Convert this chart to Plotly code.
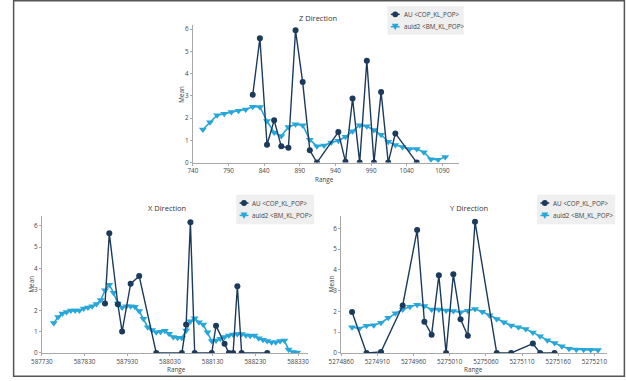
import plotly.graph_objects as go

# ---------------- data ----------------
# Z Direction
z_bm_x = [754, 764, 774, 784, 794, 804, 814, 824, 834, 844, 854, 864, 874, 884, 894, 904, 914, 924,
          934, 944, 954, 964, 974, 984, 994, 1004, 1014, 1024, 1034, 1044, 1054, 1064, 1074, 1084, 1094]
z_bm_y = [1.49, 1.81, 2.13, 2.2, 2.28, 2.33, 2.39, 2.51, 2.5, 1.87, 1.35, 1.2, 1.6, 1.72, 1.68, 1.03,
          0.74, 0.77, 0.9, 0.98, 1.16, 1.41, 1.68, 1.63, 1.46, 1.25, 0.94, 0.79, 0.7, 0.61, 0.61, 0.47,
          0.15, 0.13, 0.25]
z_au_x = [824, 834, 844, 854, 864, 874, 884, 894, 904, 914, 944, 954, 964, 974, 984, 994, 1004, 1014, 1024, 1054]
z_au_y = [3.05, 5.59, 0.8, 1.9, 0.73, 0.67, 5.95, 3.62, 0.55, 0.0, 1.37, 0.04, 2.88, 0.0, 4.58, 0.0,
          3.18, 0.0, 1.31, 0.0]

# X Direction
x_bm_x = [587758, 587768, 587778, 587788, 587798, 587808, 587818, 587828, 587838, 587848,
          587858, 587868, 587878, 587888, 587898, 587908, 587918, 587928, 587938, 587948,
          587958, 587968, 587978, 587988, 587998, 588008, 588018, 588028, 588038, 588048,
          588058, 588068, 588078, 588088, 588098, 588108, 588118, 588128, 588138, 588148,
          588158, 588168, 588178, 588188, 588198, 588208, 588218, 588228, 588238, 588248,
          588258, 588268, 588278, 588288, 588298, 588308, 588318, 588328]
x_bm_y = [1.41, 1.7, 1.87, 1.93, 2.0, 2.01, 2.0, 2.1, 2.15, 2.21,
          2.31, 2.5, 2.96, 3.22, 2.84, 2.34, 2.15, 2.21, 2.21, 2.18,
          1.98, 1.62, 1.22, 1.09, 0.98, 1.0, 1.05, 0.91, 0.75, 0.72,
          0.72, 1.06, 1.5, 1.64, 1.45, 1.34, 0.98, 0.56, 0.59, 0.67,
          0.75, 0.83, 0.87, 0.9, 0.9, 0.84, 0.81, 0.83, 0.7, 0.62,
          0.56, 0.51, 0.51, 0.56, 0.59, 0.16, 0.05, 0.02]
x_au_x = [587878, 587888, 587908, 587918, 587938, 587958, 587998, 588058, 588068, 588078,
          588088, 588128, 588138, 588158, 588168, 588178, 588188, 588198, 588258]
x_au_y = [2.34, 5.65, 2.3, 1.01, 3.27, 3.63, 0.0, 0.0, 1.34, 6.18,
          0.0, 0.0, 1.29, 0.44, 0.0, 0.0, 3.15, 0.0, 0.0]

# Y Direction
y_bm_x = [5274875, 5274885, 5274895, 5274905, 5274915, 5274925, 5274935, 5274945, 5274955,
          5274965, 5274975, 5274985, 5274995, 5275005, 5275015, 5275025, 5275035, 5275045,
          5275055, 5275065, 5275075, 5275085, 5275095, 5275105, 5275115, 5275125, 5275135,
          5275145, 5275155, 5275165, 5275175, 5275185, 5275195, 5275205, 5275215]
y_bm_y = [1.24, 1.18, 1.31, 1.34, 1.46, 1.7, 1.91, 2.1, 2.23, 2.32, 2.26, 2.1, 2.1, 2.05, 2.02,
          1.96, 2.04, 2.12, 1.99, 1.82, 1.64, 1.48, 1.32, 1.24, 1.15, 0.99, 0.8, 0.61, 0.48, 0.32,
          0.2, 0.17, 0.16, 0.15, 0.14]
y_au_x = [5274875, 5274895, 5274915, 5274945, 5274965, 5274975, 5274985, 5274995, 5275005,
          5275015, 5275025, 5275035, 5275045, 5275075, 5275095, 5275125, 5275135, 5275155]
y_au_y = [1.97, 0.0, 0.05, 2.29, 5.92, 1.51, 0.88, 3.74, 0.0, 3.79, 1.62, 0.83, 6.32, 0.0, 0.0,
          0.45, 0.0, 0.0]

panel_titles = ["Z Direction", "X Direction", "Y Direction"]
au_name = "AU &lt;COP_KL_POP&gt;"
bm_name = "auid2 &lt;BM_KL_POP&gt;"
x_title = "Range"
y_title = "Mean"

# ---------------- style ----------------
W, H = 626, 381
DARK = "#1b3a5c"
LIGHT = "#27a6d9"
FONT = "Open Sans"
AXC = "#a8a8a8"
TXT = "#444444"
FS = 6.3


def px(x):
    return x / W


def py(y):
    return 1 - y / H


fig = go.Figure()

panels = [
    dict(bx=z_bm_x, by=z_bm_y, ax=z_au_x, ay=z_au_y,
         xdom=[184, 456], ydom=[25, 164.3], xr=[740, 1113], yr=[0, 6.2], tick0=740, dtick=50,
         title_xy=(312, 18), leg_box=(383, 6, 461, 35), xt_xy=(319, 181), yt_xy=(171.5, 95)),
    dict(bx=x_bm_x, by=x_bm_y, ax=x_au_x, ay=x_au_y,
         xdom=[29.5, 302], ydom=[218.3, 356.7], xr=[587730, 588354], yr=[0, 6.47], tick0=587730, dtick=100,
         title_xy=(158, 210), leg_box=(228.3, 196.7, 308, 226.7), xt_xy=(167, 373.3), yt_xy=(19, 287)),
    dict(bx=y_bm_x, by=y_bm_y, ax=y_au_x, ay=y_au_y,
         xdom=[335.7, 608], ydom=[218.3, 356.7], xr=[5274860, 5275228], yr=[0, 6.6], tick0=5274860, dtick=50,
         title_xy=(466, 210), leg_box=(536, 196.7, 616, 226.7), xt_xy=(471, 373.3), yt_xy=(326.5, 287)),
]

annotations = []
shapes = []
layout_axes = {}
for i, p in enumerate(panels):
    suffix = "" if i == 0 else str(i + 1)
    xa = "x" + suffix
    ya = "y" + suffix
    fig.add_trace(go.Scatter(
        x=p["bx"], y=p["by"], mode="lines+markers", name=bm_name,
        xaxis=xa, yaxis=ya, showlegend=False,
        line=dict(color=LIGHT, width=1.6),
        marker=dict(symbol="triangle-down", size=7, color=LIGHT),
    ))
    fig.add_trace(go.Scatter(
        x=p["ax"], y=p["ay"], mode="lines+markers", name=au_name,
        xaxis=xa, yaxis=ya, showlegend=False,
        line=dict(color=DARK, width=1.4),
        marker=dict(symbol="circle", size=6, color=DARK),
    ))
    layout_axes["xaxis" + suffix] = dict(
        domain=[px(p["xdom"][0]), px(p["xdom"][1])], range=p["xr"], anchor=ya,
        tick0=p["tick0"], dtick=p["dtick"], tickformat="d",
        showline=True, linecolor=AXC, linewidth=1, showgrid=False, zeroline=False,
        ticks="outside", ticklen=2, tickcolor=AXC,
        tickfont=dict(family=FONT, size=FS, color=TXT),
    )
    layout_axes["yaxis" + suffix] = dict(
        domain=[py(p["ydom"][1]), py(p["ydom"][0])], range=p["yr"], anchor=xa,
        tick0=0, dtick=1,
        showline=True, linecolor=AXC, linewidth=1, showgrid=False, zeroline=False,
        ticks="outside", ticklen=2, tickcolor=AXC,
        tickfont=dict(family=FONT, size=FS, color=TXT),
    )
    # panel title
    annotations.append(dict(
        text=panel_titles[i], x=px(p["title_xy"][0]), y=py(p["title_xy"][1]),
        xref="paper", yref="paper", showarrow=False, xanchor="center", yanchor="middle",
        font=dict(family=FONT, size=7.5, color="#333333"),
    ))
    # axis titles
    annotations.append(dict(
        text=x_title, x=px(p["xt_xy"][0]), y=py(p["xt_xy"][1]),
        xref="paper", yref="paper", showarrow=False, xanchor="center", yanchor="middle",
        font=dict(family=FONT, size=FS, color=TXT),
    ))
    annotations.append(dict(
        text=y_title, x=px(p["yt_xy"][0]), y=py(p["yt_xy"][1]), textangle=-90,
        xref="paper", yref="paper", showarrow=False, xanchor="center", yanchor="middle",
        font=dict(family=FONT, size=FS, color=TXT),
    ))
    # compact legend box
    bx0, by0, bx1, by1 = p["leg_box"]
    shapes.append(dict(type="rect", xref="paper", yref="paper", layer="above",
                       x0=px(bx0), x1=px(bx1), y0=py(by1), y1=py(by0),
                       fillcolor="#efefef", line=dict(width=0)))
    r1 = by0 + 8.5
    r2 = by0 + 21
    mx = bx0 + 8
    for (ry, col, sym, label) in [(r1, DARK, "circle", au_name), (r2, LIGHT, "tri", bm_name)]:
        shapes.append(dict(type="line", xref="paper", yref="paper", layer="above",
                           x0=px(mx - 4.5), x1=px(mx + 4.5), y0=py(ry), y1=py(ry),
                           line=dict(color=col, width=1.5)))
        if sym == "circle":
            shapes.append(dict(type="circle", xref="paper", yref="paper", layer="above",
                               x0=px(mx - 3), x1=px(mx + 3), y0=py(ry + 3), y1=py(ry - 3),
                               fillcolor=col, line=dict(color=col, width=0)))
        else:
            path = "M {:.5f},{:.5f} L {:.5f},{:.5f} L {:.5f},{:.5f} Z".format(
                px(mx - 3.5), py(ry - 3), px(mx + 3.5), py(ry - 3), px(mx), py(ry + 3.5))
            shapes.append(dict(type="path", xref="paper", yref="paper", layer="above",
                               path=path, fillcolor=col, line=dict(color=col, width=0)))
        annotations.append(dict(
            text=label, x=px(mx + 6.5), y=py(ry), xref="paper", yref="paper",
            showarrow=False, xanchor="left", yanchor="middle",
            font=dict(family=FONT, size=FS, color=TXT),
        ))

shapes.append(dict(type="rect", xref="paper", yref="paper", x0=0.001, y0=0.002, x1=0.999, y1=0.998,
                   line=dict(color="#555555", width=1.5)))

fig.update_layout(
    width=W, height=H,
    margin=dict(l=0, r=0, t=0, b=0),
    paper_bgcolor="white", plot_bgcolor="white",
    showlegend=False,
    annotations=annotations,
    shapes=shapes,
    **layout_axes,
)

fig.write_html("out.html", config={"displayModeBar": False},
               post_script="document.body.style.margin='0';document.body.style.overflow='hidden';")
